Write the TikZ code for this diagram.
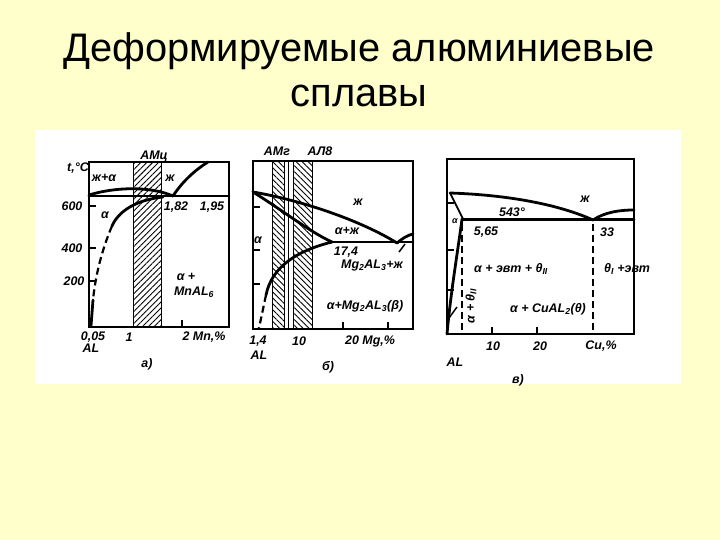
\documentclass[tikz,border=0pt]{standalone}
\usepackage{fontspec}
\setmainfont{Liberation Sans}
\usetikzlibrary{patterns.meta}
\definecolor{slideyellow}{HTML}{FFFFCC}
\tikzset{
title/.style={font=\fontsize{40}{48}\selectfont, anchor=base, inner sep=0pt}, % slide heading
lbl/.style={font=\fontsize{12.5}{14}\selectfont\itshape\bfseries, inner sep=0pt}, % labels in the diagrams
small lbl/.style={lbl, font=\fontsize{9}{10}\selectfont\itshape\bfseries},
frame/.style={line width=2pt}, % box round each diagram
curve/.style={line width=2.8pt, line cap=round}, % phase boundaries
dash line/.style={line width=2.2pt, dash pattern=on 7bp off 4bp},
tick/.style={line width=1.5pt},
hatch/.style={draw, line width=1pt, pattern={Lines[angle=45, distance=4.2pt, line width=0.9pt]}},
back hatch/.style={draw, line width=1pt, pattern={Lines[angle=-45, distance=4.2pt, line width=0.9pt]}},
}
\begin{document}
\begin{tikzpicture}[x=1bp, y=-1bp]
\useasboundingbox (0,0) rectangle (720,540);
\fill[slideyellow] (0,0) rectangle (720,540);
\fill[white] (35,130) rectangle (681,384);

\node[title] at (359,62) (title1) {Деформируемые алюминиевые};
\node[title] at (359,107) (title2) {сплавы};

% a) Al-Mn
\draw[hatch] (133,162) rectangle (161,327);
\draw[frame] (89,162) rectangle (229,327);
\draw[curve] (89,196) -- (229,196);
\draw[curve] (89,195) .. controls (115,187) and (150,186) .. (173,196);
\draw[curve] (173,196) .. controls (182,182) and (195,170) .. (208,162);
\draw[curve] (163,197) .. controls (135,200) and (118,212) .. (112,226);
\draw[dash line] (112,226) .. controls (104,245) and (96,270) .. (93,300);
\draw[curve] (93,300) -- (91,326);
\foreach \y in {206,248,281}
  \draw[tick] (89,\y) -- (96,\y);
\draw[tick] (182,327) -- (182,320);

\node[lbl] at (154,156) (amc) {АМц};
\node[lbl] at (78,168) (tC) {t,°C};
\node[lbl] at (72,206) (a600) {600};
\node[lbl] at (72,248) (a400) {400};
\node[lbl] at (74,281) (a200) {200};
\node[lbl] at (104,178) (aLa) {ж+α};
\node[lbl] at (170,178) (aL) {ж};
\node[lbl] at (105,215) (aA) {α};
\node[lbl] at (176,207) (a182) {1,82};
\node[lbl] at (212,207) (a195) {1,95};
\node[lbl] at (186,277) (aAplus) {α +};
\node[lbl] at (194,292) (aMnAl) {MnAL\textsubscript{6}};
\node[lbl] at (93,337) (a005) {0,05};
\node[lbl] at (91,348) (aAl) {AL};
\node[lbl] at (129,337) (a1) {1};
\node[lbl] at (204,337) (aMn) {2 Mn,\%};
\node[lbl] at (147,364) (capa) {а)};

% b) Al-Mg
\draw[back hatch] (272,161) rectangle (284,329);
\draw[back hatch] (293,161) rectangle (312,329);
\draw[line width=1pt] (288,161) -- (288,329);
\draw[frame] (253,161) rectangle (413,329);
\draw[curve] (253,192) .. controls (300,200) and (360,220) .. (397,243);
\draw[curve] (397,243) .. controls (403,238) and (408,235) .. (413,234);
\draw[curve] (253,192) .. controls (285,212) and (310,232) .. (332,242);
\draw[curve] (332,242) -- (413,242);
\draw[curve] (332,242) .. controls (300,250) and (272,265) .. (266,295);
\draw[dash line] (266,295) -- (259,328);
\foreach \y in {207,250,284}
  \draw[tick] (253,\y) -- (260,\y);
\foreach \x in {343,388}
  \draw[tick] (\x,329) -- (\x,322);
\draw[tick] (399,252) -- (405,244);

\node[lbl] at (277,151) (amg) {АМг};
\node[lbl] at (320,151) (al8) {АЛ8};
\node[lbl] at (358,202) (bL) {ж};
\node[lbl] at (347,231) (bAL) {α+ж};
\node[lbl] at (258,240) (bA) {α};
\node[lbl] at (346,252) (b174) {17,4};
\node[lbl] at (372,266) (bMgL) {Mg\textsubscript{2}AL\textsubscript{3}+ж};
\node[lbl] at (365,306) (bAMg) {α+Mg\textsubscript{2}AL\textsubscript{3}(β)};
\node[lbl] at (258,341) (b14) {1,4};
\node[lbl] at (259,355) (bAl) {AL};
\node[lbl] at (299,341) (b10) {10};
\node[lbl] at (370,341) (bMg) {20 Mg,\%};
\node[lbl] at (328,367) (capb) {б)};

% c) Al-Cu
\draw[frame] (447,159) rectangle (634,334);
\draw[curve] (450,193) .. controls (510,195) and (560,205) .. (593,220);
\draw[curve] (593,220) .. controls (605,212) and (620,210) .. (634,210);
\draw[curve] (463,219.5) -- (634,219.5);
\draw[curve, line width=1.8pt] (450,193) -- (463,219);
\draw[curve] (462,219) .. controls (458,250) and (451,290) .. (447,334);
\draw[dash line] (462,224) -- (462,334);
\draw[dash line] (593,224) -- (593,334);
\foreach \y in {203,250,290}
  \draw[tick] (447,\y) -- (454,\y);
\draw[tick] (449,318) -- (457,307);
\foreach \x in {492,537}
  \draw[tick] (\x,334) -- (\x,327);

\node[lbl] at (585,199) (cL) {ж};
\node[lbl] at (512,212) (c543) {543°};
\node[small lbl] at (455,221) (cA) {α};
\node[lbl] at (486,232) (c565) {5,65};
\node[lbl] at (607,232) (c33) {33};
\node[lbl] at (511,269) (cAE) {α + эвт + θ\textsubscript{II}};
\node[lbl] at (627,269) (cTE) {θ\textsubscript{I} +эвт};
\node[lbl, rotate=90] at (471,306) (cAT) {α + θ\textsubscript{II}};
\node[lbl] at (548,309) (cACu) {α + CuAL\textsubscript{2}(θ)};
\node[lbl] at (493,346) (c10) {10};
\node[lbl] at (540,346) (c20) {20};
\node[lbl] at (601,346) (cCu) {Cu,\%};
\node[lbl] at (455,362) (cAl) {AL};
\node[lbl] at (518,380) (capc) {в)};
\end{tikzpicture}
\end{document}
